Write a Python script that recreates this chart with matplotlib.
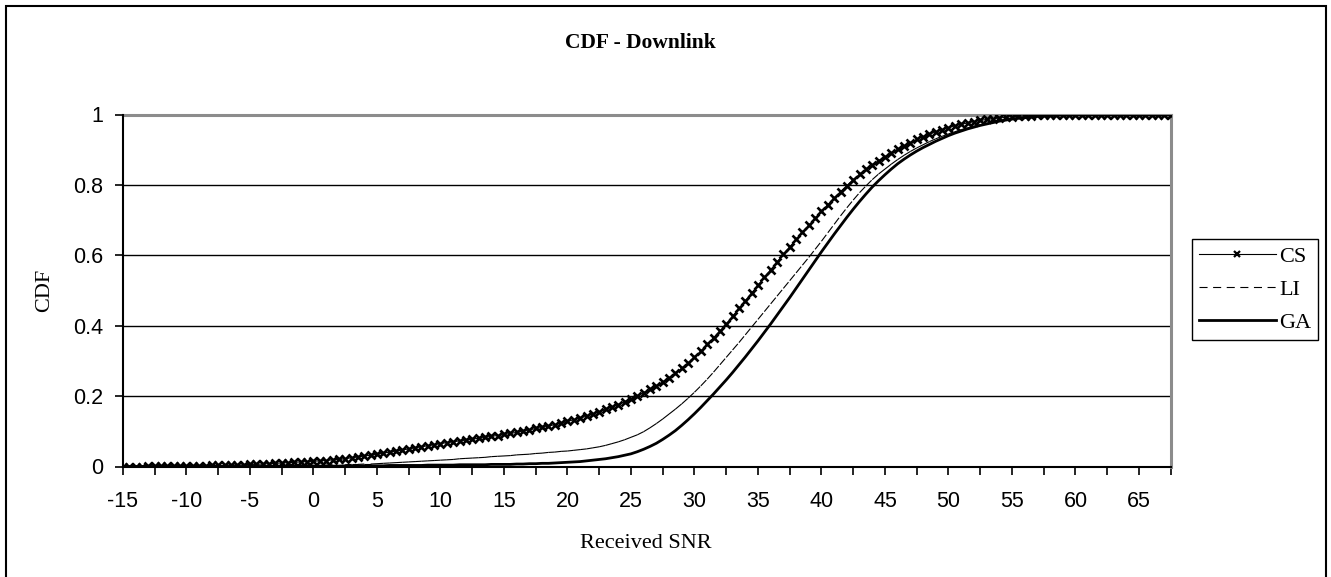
import numpy as np
import matplotlib
matplotlib.use("Agg")
import matplotlib.pyplot as plt
from matplotlib.collections import LineCollection
from matplotlib.lines import Line2D
from matplotlib.patches import Rectangle

plt.rcParams['lines.scale_dashes'] = False

# Received SNR categories (0.5 dB steps from -15 to 67.5)
snr = np.arange(-15, 67.5 + 0.25, 0.5)

cs = [
    0.000, 0.000, 0.000, 0.000, 0.001, 0.001, 0.001, 0.001, 0.001, 0.001,
    0.001, 0.002, 0.002, 0.002, 0.003, 0.003, 0.003, 0.004, 0.004, 0.005,
    0.006, 0.006, 0.007, 0.008, 0.009, 0.010, 0.011, 0.012, 0.013, 0.014,
    0.015, 0.016, 0.017, 0.019, 0.020, 0.022, 0.025, 0.027, 0.030, 0.032,
    0.035, 0.038, 0.041, 0.044, 0.047, 0.050, 0.053, 0.056, 0.059, 0.062,
    0.065, 0.068, 0.070, 0.073, 0.075, 0.078, 0.080, 0.083, 0.086, 0.088,
    0.091, 0.094, 0.097, 0.101, 0.104, 0.108, 0.111, 0.115, 0.119, 0.123,
    0.128, 0.133, 0.138, 0.143, 0.149, 0.155, 0.162, 0.169, 0.176, 0.184,
    0.192, 0.201, 0.210, 0.219, 0.229, 0.240, 0.252, 0.265, 0.279, 0.294,
    0.310, 0.328, 0.347, 0.366, 0.385, 0.405, 0.427, 0.449, 0.471, 0.493,
    0.515, 0.537, 0.559, 0.581, 0.603, 0.624, 0.645, 0.665, 0.685, 0.705,
    0.725, 0.744, 0.763, 0.781, 0.798, 0.815, 0.830, 0.844, 0.857, 0.869,
    0.880, 0.891, 0.901, 0.911, 0.920, 0.929, 0.937, 0.944, 0.951, 0.957,
    0.963, 0.968, 0.972, 0.976, 0.980, 0.983, 0.986, 0.988, 0.990, 0.992,
    0.994, 0.995, 0.996, 0.997, 0.998, 0.998, 0.999, 0.999, 0.999, 1.000,
    1.000, 1.000, 1.000, 1.000, 1.000, 1.000, 1.000, 1.000, 1.000, 1.000,
    1.000, 1.000, 1.000, 1.000, 1.000, 1.000,
]

li = [
    0.000, 0.000, 0.000, 0.000, 0.000, 0.000, 0.000, 0.000, 0.000, 0.000,
    0.000, 0.000, 0.000, 0.000, 0.000, 0.001, 0.001, 0.001, 0.001, 0.001,
    0.001, 0.001, 0.001, 0.002, 0.002, 0.002, 0.002, 0.003, 0.003, 0.003,
    0.004, 0.004, 0.004, 0.005, 0.005, 0.005, 0.006, 0.006, 0.007, 0.007,
    0.008, 0.009, 0.010, 0.011, 0.012, 0.013, 0.014, 0.015, 0.016, 0.017,
    0.018, 0.019, 0.020, 0.022, 0.023, 0.024, 0.025, 0.026, 0.028, 0.029,
    0.030, 0.031, 0.033, 0.034, 0.035, 0.037, 0.038, 0.040, 0.041, 0.043,
    0.044, 0.046, 0.048, 0.050, 0.053, 0.056, 0.060, 0.065, 0.070, 0.076,
    0.083, 0.090, 0.099, 0.110, 0.122, 0.135, 0.149, 0.163, 0.178, 0.194,
    0.211, 0.229, 0.248, 0.268, 0.289, 0.310, 0.331, 0.352, 0.374, 0.396,
    0.418, 0.440, 0.462, 0.484, 0.506, 0.528, 0.550, 0.572, 0.594, 0.617,
    0.640, 0.664, 0.688, 0.712, 0.735, 0.757, 0.778, 0.797, 0.815, 0.831,
    0.845, 0.859, 0.872, 0.884, 0.895, 0.905, 0.914, 0.923, 0.931, 0.938,
    0.945, 0.951, 0.957, 0.962, 0.967, 0.971, 0.975, 0.979, 0.982, 0.985,
    0.988, 0.990, 0.992, 0.994, 0.995, 0.996, 0.997, 0.998, 0.999, 0.999,
    1.000, 1.000, 1.000, 1.000, 1.000, 1.000, 1.000, 1.000, 1.000, 1.000,
    1.000, 1.000, 1.000, 1.000, 1.000, 1.000,
]

ga = [
    0.000, 0.000, 0.000, 0.000, 0.000, 0.000, 0.000, 0.000, 0.000, 0.000,
    0.000, 0.000, 0.000, 0.000, 0.000, 0.000, 0.000, 0.000, 0.000, 0.000,
    0.000, 0.000, 0.000, 0.000, 0.000, 0.001, 0.001, 0.001, 0.001, 0.001,
    0.001, 0.001, 0.001, 0.001, 0.001, 0.002, 0.002, 0.002, 0.002, 0.002,
    0.002, 0.002, 0.003, 0.003, 0.003, 0.003, 0.003, 0.003, 0.004, 0.004,
    0.004, 0.004, 0.004, 0.005, 0.005, 0.005, 0.005, 0.005, 0.006, 0.006,
    0.006, 0.006, 0.007, 0.007, 0.008, 0.008, 0.009, 0.009, 0.010, 0.011,
    0.012, 0.013, 0.014, 0.016, 0.018, 0.020, 0.022, 0.025, 0.028, 0.032,
    0.036, 0.042, 0.049, 0.057, 0.066, 0.077, 0.089, 0.102, 0.117, 0.133,
    0.150, 0.168, 0.187, 0.206, 0.226, 0.246, 0.267, 0.289, 0.311, 0.334,
    0.357, 0.381, 0.405, 0.430, 0.455, 0.480, 0.506, 0.532, 0.558, 0.584,
    0.610, 0.635, 0.660, 0.684, 0.708, 0.731, 0.753, 0.774, 0.794, 0.812,
    0.829, 0.845, 0.860, 0.873, 0.885, 0.896, 0.906, 0.915, 0.924, 0.932,
    0.940, 0.947, 0.953, 0.959, 0.964, 0.969, 0.973, 0.977, 0.981, 0.984,
    0.987, 0.989, 0.991, 0.993, 0.995, 0.996, 0.997, 0.998, 0.999, 0.999,
    1.000, 1.000, 1.000, 1.000, 1.000, 1.000, 1.000, 1.000, 1.000, 1.000,
    1.000, 1.000, 1.000, 1.000, 1.000, 1.000,
]

series_names = ["CS", "LI", "GA"]
x_major = np.arange(-15, 66, 5)
x_minor = np.arange(-12.5, 68, 5)
y_ticks = [0, 0.2, 0.4, 0.6, 0.8, 1.0]
y_labels = ["0", "0.2", "0.4", "0.6", "0.8", "1"]

W, H = 1331, 577
fig = plt.figure(figsize=(W / 100, H / 100), dpi=100)
fig.patch.set_facecolor("white")

L, R, T, B = 123, 1170.7, 114.5, 466.5
ax = fig.add_axes([L / W, 1 - B / H, (R - L) / W, (B - T) / H])
ax.set_xlim(-15, 67.5)
ax.set_ylim(0, 1)

sans = "Liberation Sans"
serif = "Liberation Serif"

# grid lines
for yv in y_ticks[1:-1]:
    ax.axhline(yv, color="black", lw=1.0, zorder=1)

# GA thick line
ax.plot(snr, ga, color="black", lw=2.0, zorder=3, solid_joinstyle="round")

# LI dashed line (dash pattern restarts per segment, Excel style)
li_arr = np.asarray(li)
pts = np.column_stack([snr, li_arr])
segs = np.stack([pts[:-1], pts[1:]], axis=1)
dash = (0, (5.8, 4.0))
lc = LineCollection(segs, colors="black", linewidths=0.8, linestyles=[dash], zorder=3)
ax.add_collection(lc)

# CS line with x markers
ax.plot(snr, cs, color="black", lw=0.8, marker="x", ms=6.3, mew=1.9, zorder=4)

# spines
for s in ["left", "bottom"]:
    ax.spines[s].set_color("black")
    ax.spines[s].set_linewidth(1.5)
for s in ["top", "right"]:
    ax.spines[s].set_color("#8c8c8c")
    ax.spines[s].set_linewidth(2.2)
ax.spines["left"].set_zorder(5)
ax.spines["bottom"].set_zorder(5)

ax.set_xticks(x_major)
ax.set_xticklabels([str(v) for v in x_major], fontfamily=sans, fontsize=15.5)
ax.set_xticks(x_minor, minor=True)
ax.set_yticks(y_ticks)
ax.set_yticklabels(y_labels, fontfamily=sans, fontsize=15.5)
ax.tick_params(axis="x", which="both", direction="out", length=6, width=1.2, color="black", pad=11.5)
ax.tick_params(axis="y", which="major", direction="out", length=6, width=1.2, color="black", pad=8)

# texts
fig.text(640 / W, 1 - 43 / H, "CDF - Downlink", ha="center", va="center",
         fontfamily=serif, fontweight="bold", fontsize=15.5)
fig.text(646 / W, 1 - 543 / H, "Received SNR", ha="center", va="center",
         fontfamily=serif, fontsize=16)
fig.text(45 / W, 1 - 290 / H, "CDF", ha="center", va="center", rotation=90,
         fontfamily=serif, fontsize=16)

# legend
h_cs = Line2D([], [], color="black", lw=0.8, marker="x", ms=5, mew=1.6)
h_li = Line2D([], [], color="black", lw=0.8, linestyle=(0, (5.8, 4.0)))
h_ga = Line2D([], [], color="black", lw=2.0)
leg = fig.legend([h_cs, h_li, h_ga], series_names, loc="upper left",
                 bbox_to_anchor=(1192 / W, 1 - 239 / H), bbox_transform=fig.transFigure,
                 frameon=True, fancybox=False, framealpha=1, edgecolor="black",
                 borderaxespad=0, borderpad=0.32, handlelength=3.45, handletextpad=0.15,
                 labelspacing=0.57, numpoints=1,
                 prop={"family": serif, "size": 16})
leg.get_frame().set_linewidth(1.0)

# outer chart border
fig.patches.append(Rectangle((6 / W, -0.01), (1326 - 6) / W, 1.01 - 6 / H,
                             transform=fig.transFigure, fill=False,
                             edgecolor="black", lw=1.5, clip_on=False))

fig.savefig("out.png", dpi=100)
